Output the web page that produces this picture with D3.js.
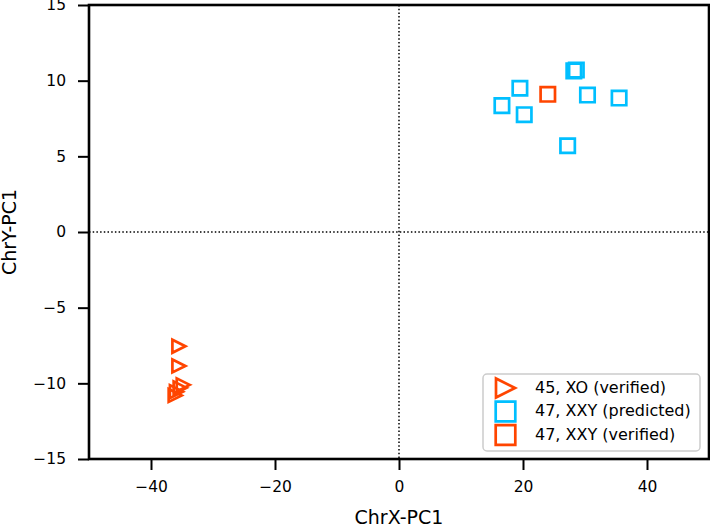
<!DOCTYPE html>
<html>
<head>
<meta charset="utf-8">
<script src="https://cdn.jsdelivr.net/npm/d3@7"></script>
<style>
  html, body { margin: 0; padding: 0; background: #fff; }
  svg { display: block; font-family: "DejaVu Sans", sans-serif; }
</style>
</head>
<body>
<svg id="chart" width="710" height="526"></svg>
<script>
// ---- data ----
const xoX = [-35.5, -35.5, -34.8, -35.3, -35.9, -36.1];
const xoY = [-7.55, -8.85, -10.1, -10.3, -10.55, -10.8];

const xxyPredX = [16.6, 19.5, 20.2, 28.2, 28.6, 30.4, 35.5, 27.2];
const xxyPredY = [8.35, 9.5, 7.75, 10.65, 10.7, 9.05, 8.85, 5.7];

const xxyVerX = [24.0];
const xxyVerY = [9.1];

const xTicks = [-40, -20, 0, 20, 40];
const yTicks = [-15, -10, -5, 0, 5, 10, 15];

const legendLabels = ["45, XO (verified)", "47, XXY (predicted)", "47, XXY (verified)"];
const colors = { orange: "#ff4500", blue: "#00bfff" };

// ---- layout ----
const M = { left: 89, right: 709, top: 5, bottom: 459 };

const svg = d3.select("#chart");
const x = d3.scaleLinear().domain([-50, 50]).range([M.left, M.right]);
const y = d3.scaleLinear().domain([-15, 15]).range([M.bottom, M.top]);

// dotted zero lines
svg.append("line")
  .attr("x1", x(0)).attr("x2", x(0)).attr("y1", M.top).attr("y2", M.bottom)
  .attr("stroke", "#000").attr("stroke-width", 1.5).attr("stroke-dasharray", "1.5,2.2");
svg.append("line")
  .attr("x1", M.left).attr("x2", M.right).attr("y1", y(0)).attr("y2", y(0))
  .attr("stroke", "#000").attr("stroke-width", 1.5).attr("stroke-dasharray", "1.5,2.2");

// markers
const tri = (s) => `M${s},0 L${-s},${-s} L${-s},${s} Z`;
const sq = (s) => `M${-s},${-s} H${s} V${s} H${-s} Z`;

svg.append("g").selectAll("path")
  .data(d3.range(xoX.length))
  .join("path")
  .attr("transform", i => `translate(${x(xoX[i])},${y(xoY[i])})`)
  .attr("d", tri(6.5))
  .attr("fill", "none").attr("stroke", colors.orange).attr("stroke-width", 2.7)
  .attr("stroke-linejoin", "miter");

svg.append("g").selectAll("path")
  .data(d3.range(xxyPredX.length))
  .join("path")
  .attr("transform", i => `translate(${x(xxyPredX[i])},${y(xxyPredY[i])})`)
  .attr("d", sq(7.2))
  .attr("fill", "none").attr("stroke", colors.blue).attr("stroke-width", 2.7);

svg.append("g").selectAll("path")
  .data(d3.range(xxyVerX.length))
  .join("path")
  .attr("transform", i => `translate(${x(xxyVerX[i])},${y(xxyVerY[i])})`)
  .attr("d", sq(7.2))
  .attr("fill", "none").attr("stroke", colors.orange).attr("stroke-width", 2.7);

// axes
const fmt = d => d < 0 ? "\u2212" + Math.abs(d) : d;
const xAxis = svg.append("g").attr("transform", `translate(0,${M.bottom})`)
  .call(d3.axisBottom(x).tickValues(xTicks).tickSize(11).tickPadding(11).tickFormat(fmt));
const yAxis = svg.append("g").attr("transform", `translate(${M.left},0)`)
  .call(d3.axisLeft(y).tickValues(yTicks).tickSize(11).tickPadding(12).tickFormat(fmt));
[xAxis, yAxis].forEach(g => {
  g.select(".domain").remove();
  g.selectAll(".tick line").attr("stroke", "#000").attr("stroke-width", 2);
  g.selectAll(".tick text").attr("fill", "#000").style("font-size", "15.5px")
    .style("font-family", "DejaVu Sans");
});

// frame
svg.append("rect")
  .attr("x", M.left).attr("y", M.top).attr("width", M.right - M.left).attr("height", M.bottom - M.top)
  .attr("fill", "none").attr("stroke", "#000").attr("stroke-width", 2.6);

// axis labels
svg.append("text")
  .attr("x", (M.left + M.right) / 2).attr("y", 524)
  .attr("text-anchor", "middle")
  .style("font-size", "19px").text("ChrX-PC1");
svg.append("text")
  .attr("transform", `translate(16,${(M.top + M.bottom) / 2}) rotate(-90)`)
  .attr("text-anchor", "middle")
  .style("font-size", "19px").text("ChrY-PC1");

// legend
const lg = svg.append("g");
lg.append("rect")
  .attr("x", 483).attr("y", 374).attr("width", 217).attr("height", 77)
  .attr("rx", 4).attr("fill", "#fff").attr("fill-opacity", 0.8)
  .attr("stroke", "#cccccc").attr("stroke-width", 1.5);
const legendShapes = [
  { d: tri(9.5), c: colors.orange },
  { d: sq(9.8), c: colors.blue },
  { d: sq(9.8), c: colors.orange }
];
legendLabels.forEach((lab, i) => {
  const yy = 388 + i * 23.5;
  lg.append("path").attr("transform", `translate(505.5,${yy})`)
    .attr("d", legendShapes[i].d).attr("fill", "none")
    .attr("stroke", legendShapes[i].c).attr("stroke-width", 2.7);
  lg.append("text").attr("x", 535).attr("y", yy)
    .attr("dominant-baseline", "middle").style("font-size", "16px").text(lab);
});
</script>
</body>
</html>
